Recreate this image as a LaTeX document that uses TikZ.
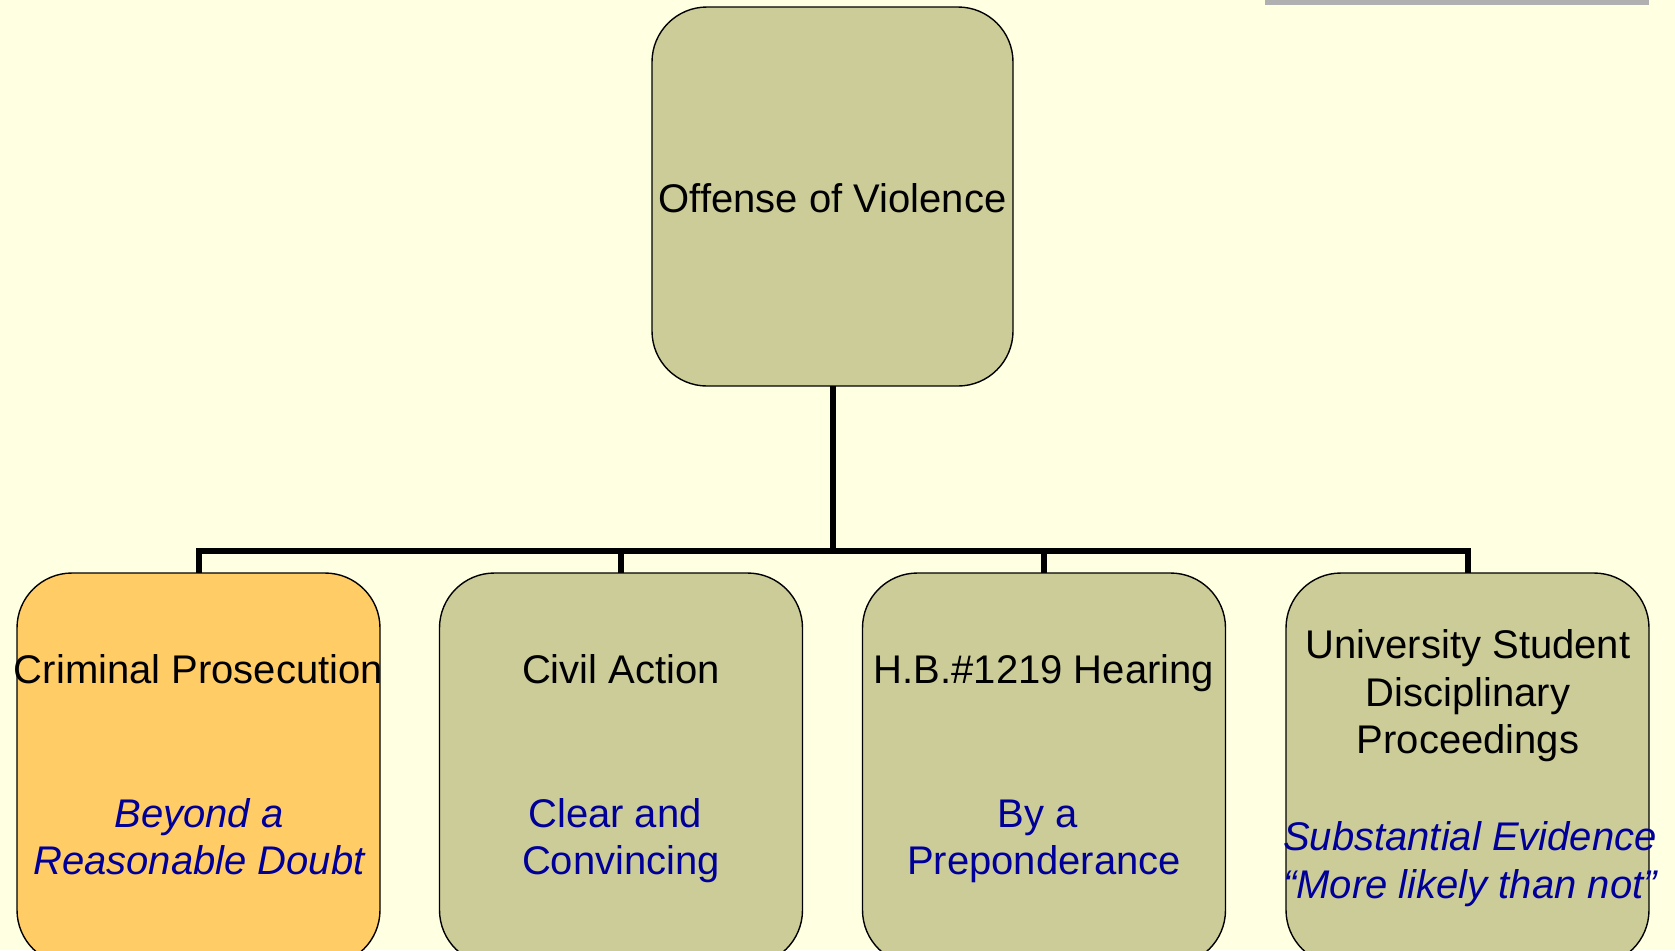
\documentclass[tikz,border=0pt]{standalone}
\usepackage{fontspec}
\setmainfont{Liberation Sans}
\definecolor{bg}{HTML}{FFFFE1}
\definecolor{khaki}{HTML}{CCCC99}
\definecolor{orng}{HTML}{FFCC66}
\definecolor{navy}{HTML}{000099}
\definecolor{barg}{HTML}{B0B0B0}
\begin{document}
\begin{tikzpicture}[x=0.5pt,y=-0.5pt,
  box/.style={draw=black,line width=0.7pt,rounded corners=27.5pt,inner sep=0pt,outer sep=0pt,fill=khaki,minimum width=181.5pt,minimum height=196pt},
  ttl/.style={font=\fontsize{20}{23.5}\selectfont,anchor=base,text=black,inner sep=0pt},
  std/.style={font=\fontsize{20}{23.5}\selectfont,anchor=base,text=navy,inner sep=0pt},
  conn/.style={line width=3pt}]
\useasboundingbox (0,0) rectangle (1675,950);
\clip (0,0) rectangle (1675,950);
\fill[bg] (0,0) rectangle (1675,950);
\fill[barg] (1265,0) rectangle (1649,5);

% boxes
\node[box,minimum width=180.5pt,minimum height=189.5pt] (top) at (832.5,196.5) {};
\node[box,fill=orng] (b1) at (198.5,769) {};
\node[box] (b2) at (621,769) {};
\node[box] (b3) at (1044,769) {};
\node[box] (b4) at (1467.5,769) {};

% connectors
\coordinate (bar) at (832.5,551);
\draw[conn] (top.south) -- (bar);
\draw[conn] (bar) -| (b1.north);
\draw[conn] (bar) -| (b2.north);
\draw[conn] (bar) -| (b3.north);
\draw[conn] (bar) -| (b4.north);

% texts
\node[ttl] (t0) at (832.5,212) {Offense of Violence};

\node[ttl] (t1) at (198.5,683) {Criminal Prosecution};
\node[std,font=\fontsize{20}{23.5}\selectfont\itshape] (s1a) at (199,827) {Beyond a};
\node[std,font=\fontsize{20}{23.5}\selectfont\itshape] (s1b) at (199,874) {Reasonable Doubt};

\node[ttl] (t2) at (621,683) {Civil Action};
\node[std] (s2a) at (615,827) {Clear and};
\node[std] (s2b) at (621,874) {Convincing};

\node[ttl] (t3) at (1044,683) {H.B.\#1219 Hearing};
\node[std] (s3a) at (1038,827) {By a};
\node[std] (s3b) at (1044,874) {Preponderance};

\node[ttl] (t4a) at (1468,658) {University Student};
\node[ttl] (t4b) at (1468,706) {Disciplinary};
\node[ttl] (t4c) at (1468,753) {Proceedings};
\node[std,font=\fontsize{20}{23.5}\selectfont\itshape] (s4a) at (1470,850) {Substantial Evidence};
\node[std,font=\fontsize{20}{23.5}\selectfont\itshape] (s4b) at (1470,898) {“More likely than not”};
\end{tikzpicture}
\end{document}
